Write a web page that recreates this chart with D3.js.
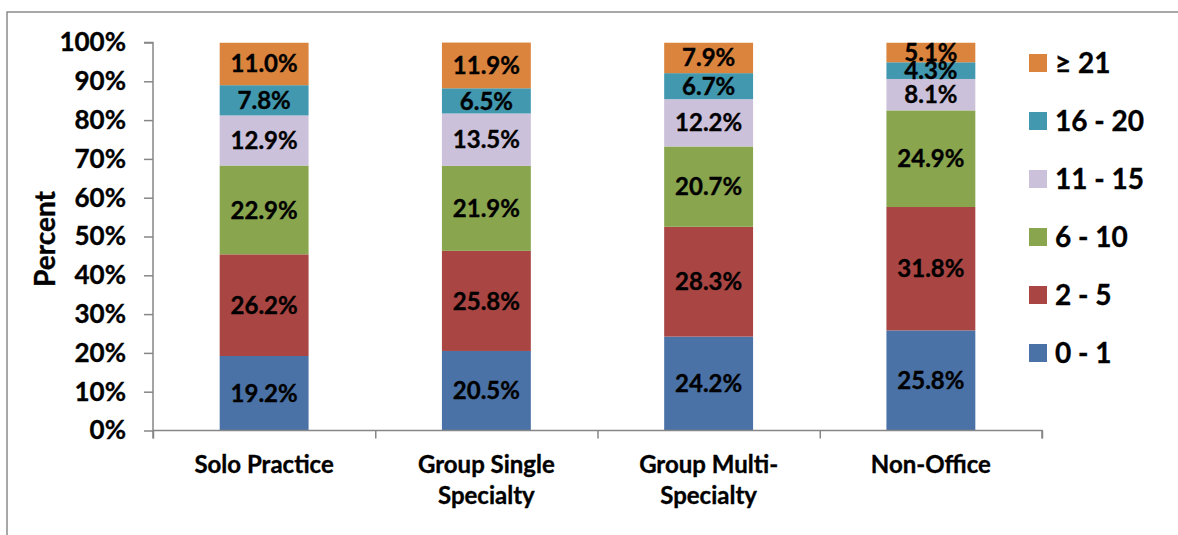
<!DOCTYPE html>
<html>
<head>
<meta charset="utf-8">
<script src="https://cdn.jsdelivr.net/npm/d3@7"></script>
<style>
  html, body { margin: 0; padding: 0; background: #fff; }
  svg { display: block; font-family: Lato, "Open Sans", sans-serif; font-weight: bold; }
  svg text { stroke: #000; stroke-width: 0.35px; }
</style>
</head>
<body>
<svg id="chart" width="1178" height="535"></svg>
<script>
const categories = [["Solo Practice"], ["Group Single", "Specialty"], ["Group Multi-", "Specialty"], ["Non-Office"]];
const seriesNames = ["0 - 1", "2 - 5", "6 - 10", "11 - 15", "16 - 20", "\u2265 21"];
const seriesColors = ["#4A72A6", "#A94542", "#89A54E", "#CCC1DA", "#4198AF", "#DB843D"];
const s0_1   = [19.2, 20.5, 24.2, 25.8];
const s2_5   = [26.2, 25.8, 28.3, 31.8];
const s6_10  = [22.9, 21.9, 20.7, 24.9];
const s11_15 = [12.9, 13.5, 12.2, 8.1];
const s16_20 = [7.8, 6.5, 6.7, 4.3];
const s21    = [11.0, 11.9, 7.9, 5.1];
const yTicks = [0, 10, 20, 30, 40, 50, 60, 70, 80, 90, 100];

const seriesValues = [s0_1, s2_5, s6_10, s11_15, s16_20, s21];
const rows = categories.map((c, i) => {
  const r = { key: i };
  seriesNames.forEach((n, j) => r[n] = seriesValues[j][i]);
  return r;
});
const stacked = d3.stack().keys(seriesNames)(rows);

const svg = d3.select("#chart");
const pL = 153, pR = 1042, pT = 42.5, pB = 430.5;

// outer border (top and left visible)
svg.append("path").attr("d", `M7,535 L7,12 L1178,12`).attr("fill", "none")
  .attr("stroke", "#8c8c8c").attr("stroke-width", 1.5);

const x = d3.scaleBand().domain(d3.range(categories.length)).range([pL, pR]).padding(0);
const y = d3.scaleLinear().domain([0, 100]).range([pB, pT]);
const barW = x.bandwidth() * 0.4;

svg.append("defs").append("clipPath").attr("id", "plotclip")
  .append("rect").attr("x", pL).attr("y", pT).attr("width", pR - pL).attr("height", pB - pT);

const gBars = svg.append("g").attr("clip-path", "url(#plotclip)");
stacked.forEach((layer, j) => {
  gBars.selectAll(null).data(layer).enter().append("rect")
    .attr("x", (d, i) => x(i) + (x.bandwidth() - barW) / 2)
    .attr("width", barW)
    .attr("y", d => y(d[1]))
    .attr("height", d => y(d[0]) - y(d[1]))
    .attr("fill", seriesColors[j]);
});

// data labels
stacked.forEach((layer, j) => {
  svg.selectAll(null).data(layer).enter().append("text")
    .attr("x", (d, i) => x(i) + x.bandwidth() / 2)
    .attr("y", d => (y(d[0]) + y(Math.min(d[1], 100))) / 2)
    .attr("dy", "0.36em")
    .attr("text-anchor", "middle")
    .attr("font-size", 24)
    .attr("fill", "#000")
    .text((d, i) => seriesValues[j][i].toFixed(1) + "%");
});

// y axis
const yAxis = d3.axisLeft(y).tickValues(yTicks).tickFormat(d => d + "%").tickSize(9).tickPadding(18);
const gy = svg.append("g").attr("transform", `translate(${pL},0)`).call(yAxis);
gy.select(".domain").attr("stroke", "#868686").attr("stroke-width", 1.5).attr("d", `M-9,${pT}H0V${pB + 8}`);
gy.selectAll(".tick line").attr("stroke", "#868686").attr("stroke-width", 1.5);
gy.selectAll(".tick text").attr("font-size", 26).attr("font-family", "Lato, sans-serif")
  .attr("font-weight", "bold").attr("fill", "#000");

// x axis line and ticks at band boundaries
const xb = d3.scaleLinear().domain([0, categories.length]).range([pL, pR]);
const xAxis = d3.axisBottom(xb).tickValues(d3.range(categories.length + 1)).tickSize(8).tickFormat("");
const gx = svg.append("g").attr("transform", `translate(0,${pB})`).call(xAxis);
gx.select(".domain").attr("stroke", "#868686").attr("stroke-width", 1.5).attr("d", `M${pL},0H${pR}V8`);
gx.selectAll(".tick line").attr("stroke", "#868686").attr("stroke-width", 1.5);

// category labels
categories.forEach((lines, i) => {
  const t = svg.append("text").attr("text-anchor", "middle").attr("font-size", 24).attr("fill", "#000");
  lines.forEach((ln, k) => {
    t.append("tspan").attr("x", x(i) + x.bandwidth() / 2).attr("y", 473 + k * 31).text(ln);
  });
});

// y axis title
svg.append("text").attr("transform", `translate(55,239) rotate(-90)`)
  .attr("text-anchor", "middle").attr("font-size", 28).attr("fill", "#000").text("Percent");

// legend
const legendOrder = d3.range(seriesNames.length).reverse();
legendOrder.forEach((j, k) => {
  const cy = 63 + k * 58;
  svg.append("rect").attr("x", 1029).attr("y", cy - 9).attr("width", 18).attr("height", 18).attr("fill", seriesColors[j]);
  svg.append("text").attr("x", 1055).attr("y", cy).attr("dy", "0.36em").attr("font-size", 28)
    .attr("fill", "#000").text(seriesNames[j]);
});
</script>
</body>
</html>
